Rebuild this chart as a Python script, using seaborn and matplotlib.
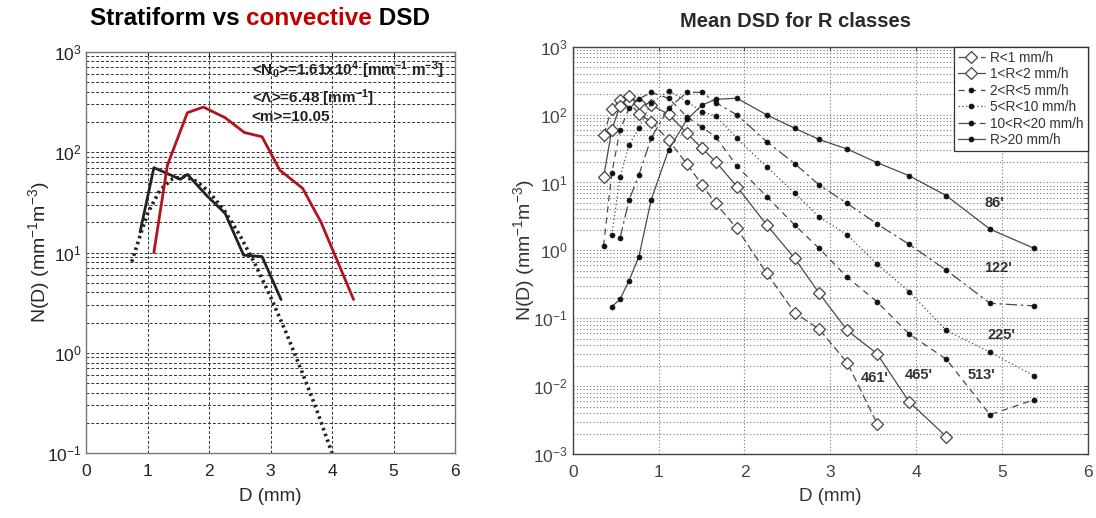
import numpy as np
import pandas as pd
import matplotlib
matplotlib.use("Agg")
import matplotlib.pyplot as plt
import seaborn as sns
from matplotlib.ticker import LogLocator, NullFormatter

# ---------------- Left panel data ----------------
strat_D = [0.875, 1.10, 1.53, 1.645, 1.95, 2.26, 2.56, 2.86, 3.17]
strat_N = [16, 70, 53.6, 60, 37.4, 24.5, 9.4, 9.1, 3.4]
conv_D = [1.10, 1.32, 1.645, 1.905, 2.26, 2.57, 2.86, 3.15, 3.52, 3.82, 4.35]
conv_N = [10.0, 74, 247, 281, 220, 157, 142, 66, 43.6, 20, 3.4]
fit_D = [0.74, 0.9, 1.0, 1.2, 1.4, 1.6, 1.8, 2.0, 2.25, 2.5, 2.75, 3.0, 3.25, 3.5, 3.75, 4.0]
fit_N = [8.1, 16.4, 24.7, 42, 54, 57, 51, 40, 26, 14.8, 7.6, 3.6, 1.6, 0.67, 0.27, 0.1]

# ---------------- Right panel data ----------------
D_bins = [0.359, 0.455, 0.551, 0.656, 0.771, 0.913, 1.116, 1.331, 1.506, 1.665,
          1.912, 2.259, 2.584, 2.869, 3.198, 3.544, 3.916, 4.350, 4.859, 5.373]
labels_R = ["R<1 mm/h", "1<R<2 mm/h", "2<R<5 mm/h", "5<R<10 mm/h", "10<R<20 mm/h", "R>20 mm/h"]
N_r1 = [50, 121, 165, 155, 101, 79, 42, 18.7, 9.2, 4.9, 2.1, 0.46, 0.121, 0.069, 0.022, 0.0028]
N_r2 = [11.9, 59, 135, 188, 150, 138, 101, 53, 31.9, 20.2, 8.7, 2.37, 0.765, 0.234, 0.066, 0.030,
        0.0059, 0.0018]
N_r5 = [1.16, 13.6, 59, 124, 170, 212, 174, 93, 65, 47, 17.5, 6.2, 2.37, 1.07, 0.40, 0.175,
        0.0587, 0.0249, 0.0038, 0.0063]
N_r10 = [None, 1.69, 11.9, 36, 63, 147, 225, 155, 110, 95, 45, 17, 7, 3.1, 1.69, 0.63, 0.247,
         0.066, 0.0316, 0.0141]
N_r20 = [None, None, 1.51, 5.5, 12.9, 45, 124, 213, 213, 150, 99, 40, 19, 9.2, 4.9, 2.45, 1.23,
         0.51, 0.166, 0.152]
N_rmax = [None, 0.148, 0.19, 0.358, 0.81, 5.5, 30, 85, 138, 168, 174, 99, 63, 43, 31, 19.6, 12.6,
          6.4, 2.05, 1.07]
count_labels = ["461'", "465'", "513'", "225'", "122'", "86'"]
count_x = [3.52, 4.03, 4.76, 4.99, 4.95, 4.91]
count_y = [0.0131, 0.0146, 0.0146, 0.0568, 0.545, 4.93]

sns.set_style("white")
plt.rcParams['font.family'] = ['Liberation Sans', 'DejaVu Sans']
plt.rcParams['mathtext.default'] = 'regular'

fig = plt.figure(figsize=(10.96, 5.18), dpi=100)
axL = fig.add_axes([86.3 / 1096, 1 - 453.3 / 518, (455 - 86.3) / 1096, (453.3 - 51.7) / 518])
axR = fig.add_axes([572.7 / 1096, 1 - 454 / 518, (1088 - 572.7) / 1096, (454 - 46.7) / 518])

# ---------------- Left panel ----------------
axL.set_yscale('log')
sns.lineplot(x=fit_D, y=fit_N, ax=axL, color='#222222', lw=2.6, linestyle=(0, (0.7, 1.0)),
             estimator=None, sort=False)
sns.lineplot(x=strat_D, y=strat_N, ax=axL, color='#222222', lw=2.0, estimator=None, sort=False)
sns.lineplot(x=conv_D, y=conv_N, ax=axL, color='#b5121b', lw=2.0, estimator=None, sort=False)
axL.set_xlim(0, 6)
axL.set_ylim(0.1, 1000)
axL.set_xticks(range(0, 7))
axL.yaxis.set_major_locator(LogLocator(base=10, numticks=10))
axL.yaxis.set_minor_locator(LogLocator(base=10, subs=range(2, 10), numticks=50))
axL.yaxis.set_minor_formatter(NullFormatter())
axL.grid(True, which='both', axis='y', color='#333333', lw=0.7, linestyle=(0, (3, 2)))
axL.grid(True, which='major', axis='x', color='#333333', lw=0.7, linestyle=(0, (3, 2)))
axL.tick_params(which='both', direction='in', top=True, right=True, labelsize=12.5,
                colors='#222222', length=3)
axL.tick_params(axis='x', pad=8)
for s in axL.spines.values():
    s.set_color('#777777')
    s.set_linewidth(1.0)
axL.set_xlabel("D (mm)", fontsize=13.5, labelpad=6)
axL.set_ylabel("N(D) (mm$^{-1}$m$^{-3}$)", fontsize=14, labelpad=-4)

tx = 0.449
axL.text(tx, 0.954, "<N$_0$>=1.61x10$^4$ [mm$^{-1}$ m$^{-3}$]", transform=axL.transAxes,
         fontsize=11, fontweight='bold', va='center', ha='left', color='#222222')
axL.text(tx, 0.884, "<Λ>=6.48 [mm$^{-1}$]", transform=axL.transAxes,
         fontsize=11, fontweight='bold', va='center', ha='left', color='#222222')
axL.text(tx, 0.838, "<m>=10.05", transform=axL.transAxes,
         fontsize=11, fontweight='bold', va='center', ha='left', color='#222222')

title_y = 1 - 25 / 518
t1 = fig.text(90 / 1096, title_y, "Stratiform vs ", fontsize=17.5, fontweight='bold',
              ha='left', va='baseline', color='black')

# ---------------- Right panel ----------------
axR.set_yscale('log')
series = [N_r1, N_r2, N_r5, N_r10, N_r20, N_rmax]
styles = [(0, (6, 3)), '-', (0, (5, 4)), (0, (1, 2)), (0, (9, 3, 2, 3)), '-']
lc = '#4a4a4a'
for i, (vals, lab, ls) in enumerate(zip(series, labels_R, styles)):
    d = [D_bins[j] for j, v in enumerate(vals) if v is not None]
    v = [x for x in vals if x is not None]
    if i < 2:
        sns.lineplot(x=d, y=v, ax=axR, color=lc, lw=0.9, linestyle=ls, marker='D',
                     markersize=6, markerfacecolor='white', markeredgecolor='#444444',
                     markeredgewidth=0.9, label=lab, estimator=None, sort=False)
    else:
        sns.lineplot(x=d, y=v, ax=axR, color=lc, lw=0.9, linestyle=ls, marker='o',
                     markersize=3.6, markerfacecolor='#111111', markeredgecolor='#111111',
                     markeredgewidth=0.5, label=lab, estimator=None, sort=False)

for lab, x, y in zip(count_labels, count_x, count_y):
    axR.text(x, y, lab, fontsize=10.5, fontweight='bold', color='#333333',
             ha='center', va='center')

axR.set_xlim(0, 6)
axR.set_ylim(1e-3, 1e3)
axR.set_xticks(range(0, 7))
axR.yaxis.set_major_locator(LogLocator(base=10, numticks=10))
axR.yaxis.set_minor_locator(LogLocator(base=10, subs=range(2, 10), numticks=50))
axR.yaxis.set_minor_formatter(NullFormatter())
axR.grid(True, which='both', axis='y', color='#777777', lw=0.8, linestyle=(0, (1, 2)))
axR.grid(True, which='major', axis='x', color='#777777', lw=0.8, linestyle=(0, (1, 2)))
axR.tick_params(which='both', direction='in', top=True, right=True, labelsize=12.5,
                colors='#444444', length=3)
axR.tick_params(axis='x', pad=8)
for s in axR.spines.values():
    s.set_color('#444444')
    s.set_linewidth(1.0)
axR.set_xlabel("D (mm)", fontsize=13.5, labelpad=6, color='#333333')
axR.set_ylabel("N(D) (mm$^{-1}$m$^{-3}$)", fontsize=14, labelpad=-3, color='#333333')

leg = axR.legend(loc='upper right', borderaxespad=0, fontsize=9.8, frameon=True, fancybox=False,
                 edgecolor='#333333', handlelength=2.0, labelspacing=0.18, borderpad=0.3,
                 handletextpad=0.4, framealpha=1)
leg.get_frame().set_linewidth(0.9)
for t in leg.get_texts():
    t.set_color('#333333')

fig.text(796 / 1096, 1 - 26.7 / 518, "Mean DSD for R classes", fontsize=14.5, fontweight='bold',
         ha='center', va='baseline', color='#2a2a2a')

# place coloured title pieces next to each other
fig.canvas.draw()
r = fig.canvas.get_renderer()
bb1 = t1.get_window_extent(r)
t2 = fig.text(bb1.x1 / fig.bbox.width, title_y, "convective", fontsize=17.5, fontweight='bold',
              color='#c00000', ha='left', va='baseline')
fig.canvas.draw()
bb2 = t2.get_window_extent(r)
t3 = fig.text(bb2.x1 / fig.bbox.width, title_y, " DSD", fontsize=17.5, fontweight='bold',
              color='black', ha='left', va='baseline')

fig.savefig("out.png", dpi=100)
